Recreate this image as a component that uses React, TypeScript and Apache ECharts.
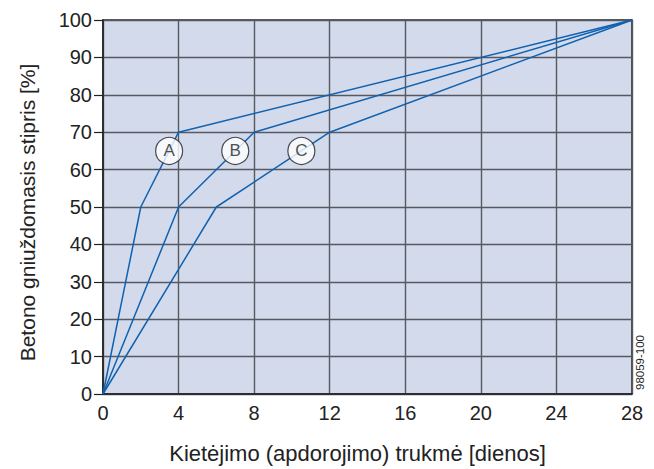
import React, { useEffect, useRef } from "react";
import * as echarts from "echarts";

const curveA: [number, number][] = [[0, 0], [2, 50], [4, 70], [28, 100]];
const curveB: [number, number][] = [[0, 0], [4, 50], [8, 70], [28, 100]];
const curveC: [number, number][] = [[0, 0], [6, 50], [12, 70], [28, 100]];
const labelNames = ["A", "B", "C"];
const labelPoints: [number, number][] = [[3.5, 65], [7.0, 65], [10.5, 65]];
const xTicks = [0, 4, 8, 12, 16, 20, 24, 28];
const yTicks = [0, 10, 20, 30, 40, 50, 60, 70, 80, 90, 100];

const FONT = "'Liberation Sans', Arial, sans-serif";
const BLUE = "#1062b0";

export default function App() {
  const ref = useRef<HTMLDivElement>(null);
  useEffect(() => {
    const chart = echarts.init(ref.current!, null, { renderer: "svg" });
    const lineSeries = [curveA, curveB, curveC].map((d, i) => ({
      type: "line",
      name: labelNames[i],
      data: d,
      showSymbol: false,
      symbol: "none",
      lineStyle: { color: BLUE, width: 1.5 },
      z: 3,
    }));
    chart.setOption({
      animation: false,
      grid: {
        left: 103,
        right: 22,
        top: 20,
        bottom: 71,
        show: true,
        backgroundColor: "#d3daec",
        borderColor: "#222",
        borderWidth: 1.5,
      },
      xAxis: {
        type: "value",
        min: 0,
        max: 28,
        interval: 4,
        name: "Kietėjimo (apdorojimo) trukmė [dienos]",
        nameLocation: "middle",
        nameGap: 48,
        nameTextStyle: { fontFamily: FONT, fontSize: 22, color: "#222", padding: [0, 20, 0, 0] },
        axisLine: { show: true, lineStyle: { color: "#222", width: 1.5 } },
        axisTick: { show: false },
        axisLabel: {
          fontFamily: FONT,
          fontSize: 20,
          color: "#222",
          margin: 9,
          formatter: (v: number) => (xTicks.includes(v) ? String(v) : ""),
        },
        splitLine: { show: true, lineStyle: { color: "#555a60", width: 1.4 } },
      },
      yAxis: {
        type: "value",
        min: 0,
        max: 100,
        interval: 10,
        name: "Betono gniuždomasis stipris [%]",
        nameLocation: "middle",
        nameGap: 65,
        nameTextStyle: { fontFamily: FONT, fontSize: 21, color: "#222", padding: [0, 11, 0, 0] },
        axisLine: { show: true, lineStyle: { color: "#222", width: 1.5 } },
        axisTick: { show: true, length: 9, inside: false, lineStyle: { color: "#222", width: 1.2 } },
        axisLabel: {
          fontFamily: FONT,
          fontSize: 20,
          color: "#222",
          margin: 11,
          formatter: (v: number) => (yTicks.includes(v) ? String(v) : ""),
        },
        splitLine: { show: true, lineStyle: { color: "#555a60", width: 1.4 } },
      },
      series: [
        ...lineSeries,
        {
          type: "scatter",
          data: labelPoints.map((p, i) => ({ value: p, name: labelNames[i] })),
          symbol: "circle",
          symbolSize: 27,
          itemStyle: { color: "#ffffff", borderColor: "#222", borderWidth: 1.2 },
          label: {
            show: true,
            position: "inside",
            formatter: (p: any) => p.name,
            fontFamily: FONT,
            fontSize: 17,
            color: "#222",
          },
          z: 5,
        },
      ],
      graphic: [
        {
          type: "text",
          x: 634,
          y: 390,
          rotation: Math.PI / 2,
          style: {
            text: "98059-100",
            fontFamily: FONT,
            fontSize: 11.5,
            fill: "#222",
            textAlign: "left",
            textVerticalAlign: "top",
          },
        },
      ],
    });
    return () => chart.dispose();
  }, []);
  return <div ref={ref} style={{ width: 654, height: 469, position: "absolute", left: 0, top: 0 }} />;
}
